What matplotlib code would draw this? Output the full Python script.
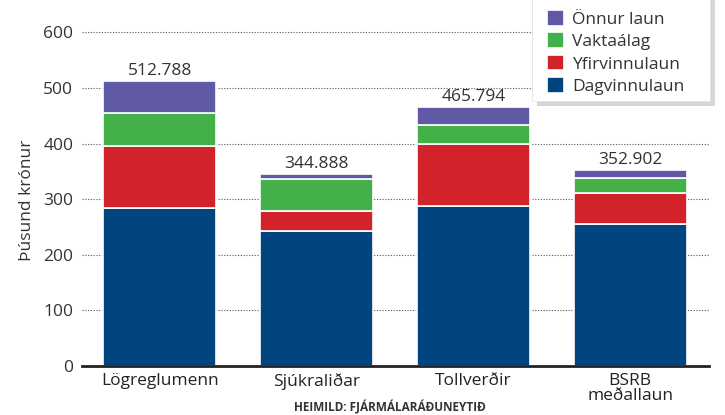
import matplotlib
matplotlib.use("Agg")
import matplotlib.pyplot as plt
from matplotlib.patches import Rectangle
import numpy as np

categories = ["Lögreglumenn", "Sjúkraliðar", "Tollverðir", "BSRB\nmeðallaun"]
totals = [512.788, 344.888, 465.794, 352.902]
total_labels = ["512.788", "344.888", "465.794", "352.902"]
dagvinnulaun = [285, 242, 287, 255]
yfirvinnulaun = [110, 36, 112, 57]
vaktaalag = [60, 58, 34, 27]
onnur_laun = [t - (a + b + c) for t, a, b, c in zip(totals, dagvinnulaun, yfirvinnulaun, vaktaalag)]
yticks = [0, 100, 200, 300, 400, 500, 600]

plt.rcParams['font.family'] = ['Open Sans', 'DejaVu Sans']

W, H = 725, 415
fig = plt.figure(figsize=(7.25, 4.15), dpi=100)
ax = fig.add_axes([81.5/W, 1-366/H, 627/W, 366/H])

x = np.arange(len(categories))
w = 0.72
colors = {"Dagvinnulaun": "#00457F", "Yfirvinnulaun": "#D2232A",
          "Vaktaálag": "#43B049", "Önnur laun": "#5F59A6"}
series = [("Dagvinnulaun", dagvinnulaun), ("Yfirvinnulaun", yfirvinnulaun),
          ("Vaktaálag", vaktaalag), ("Önnur laun", onnur_laun)]
bottom = np.zeros(len(categories))
handles = {}
for name, vals in series:
    b = ax.bar(x, vals, w, bottom=bottom, color=colors[name], edgecolor="white",
               linewidth=1.2, zorder=3, label=name)
    handles[name] = b
    bottom += np.array(vals)

for xi, t, lab in zip(x, totals, total_labels):
    ax.text(xi, t + 4, lab, ha="center", va="bottom", fontsize=12.5, color="#333333")

ax.set_xlim(-0.5, 3.5)
ax.set_ylim(0, 366/0.556)
ax.set_yticks(yticks)
ax.set_yticklabels([str(v) for v in yticks], fontsize=12.5, color="#333333")
ax.yaxis.grid(True, linestyle=(0, (1, 1.5)), color="#555555", linewidth=0.8, zorder=0)
ax.set_xticks(x)
ax.set_xticklabels(categories, fontsize=12.5, color="#222222", linespacing=0.95)
ax.tick_params(axis="both", length=0)
ax.tick_params(axis="y", pad=6)
ax.tick_params(axis="x", pad=5)
for s in ["top", "right", "left"]:
    ax.spines[s].set_visible(False)
ax.spines["bottom"].set_color("#222222")
ax.spines["bottom"].set_linewidth(2)
ax.spines["bottom"].set_zorder(4)
ax.set_ylabel("Þúsund krónur", fontsize=12.5, color="#333333")
ax.yaxis.set_label_coords((35 - 81.5)/627, (366 - 200)/366)

# legend box with shadow (drawn in figure pixels)
bx0, bx1, by_top, by_bot = 532, 710, -10, 101
shadow = Rectangle(((bx0 + 5)/W, 1 - (by_bot + 5)/H), (bx1 - bx0)/W, (by_bot - by_top)/H,
                   transform=fig.transFigure, facecolor="#bbbbbb", edgecolor="none",
                   alpha=0.6, zorder=5)
box = Rectangle((bx0/W, 1 - by_bot/H), (bx1 - bx0)/W, (by_bot - by_top)/H,
                transform=fig.transFigure, facecolor="white", edgecolor="#e0e0e0",
                linewidth=0.5, zorder=6)
fig.patches.extend([shadow, box])

order = ["Önnur laun", "Vaktaálag", "Yfirvinnulaun", "Dagvinnulaun"]
leg = fig.legend([handles[n] for n in order], order, loc="upper left",
                 bbox_to_anchor=(547/W, 1 - 10/H), fontsize=12.5, frameon=False,
                 handlelength=1.0, handleheight=1.0,
                 handletextpad=0.45, labelspacing=0.27, borderpad=0,
                 borderaxespad=0)
leg.set_zorder(7)
for t in leg.get_texts():
    t.set_color("#333333")

fig.text(390/W, 1/H, "HEIMILD: FJÁRMÁLARÁÐUNEYTIÐ", ha="center", va="bottom",
         fontsize=8.5, fontweight="bold", color="#333333")

fig.savefig("out.png", dpi=100)
